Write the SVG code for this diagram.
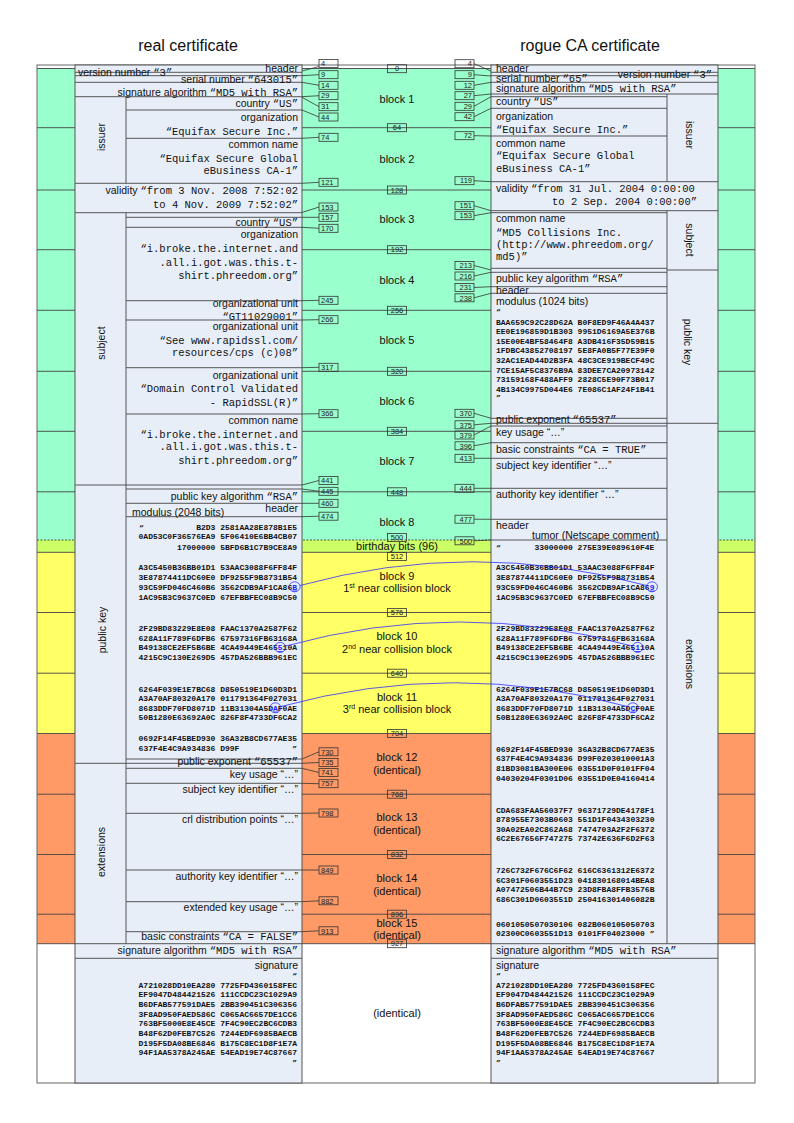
<svg xmlns="http://www.w3.org/2000/svg" width="794" height="1123" viewBox="0 0 794 1123">
<style>
.s{font-family:"Liberation Sans",Arial,sans-serif;font-size:10.5px;fill:#111}
.m{font-family:"Liberation Mono","Courier New",monospace;font-size:10.5px}
.h{font-family:"Liberation Mono","Courier New",monospace;font-size:8px;font-weight:bold;fill:#111}
.bl{font-family:"Liberation Sans",Arial,sans-serif;font-size:11px;text-anchor:middle;fill:#111}
.ti{font-family:"Liberation Sans",Arial,sans-serif;font-size:16px;text-anchor:middle;fill:#111}
.nb{font-family:"Liberation Sans",Arial,sans-serif;font-size:7.5px;fill:#222}
.bx{fill:none;stroke:#333;stroke-width:0.8}
.cert{fill:#E8EEF8;stroke:#555;stroke-width:1}
.ln{stroke:#555;stroke-width:1;fill:none}
.bd{stroke:#444;stroke-width:0.9;fill:none}
.cn{stroke:#333;stroke-width:0.8;fill:none}
.hl{fill:#2020ff;text-decoration:underline}
.ci{fill:none;stroke:#3030ff;stroke-width:0.8}
.cv{fill:none;stroke:#3030ff;stroke-width:0.8}
.e{text-anchor:end}
.mid{text-anchor:middle}
</style>
<g id="titles">
<text class="ti" x="188" y="51">real certificate</text>
<text class="ti" x="590" y="51">rogue CA certificate</text>
</g>
<g id="bands">
<rect x="37" y="68.5" width="718" height="471.5" fill="#99FFCC"/>
<rect x="37" y="540" width="718" height="12.3" fill="#CCFF66"/>
<rect x="37" y="552.3" width="718" height="181.2" fill="#FFFF66"/>
<rect x="37" y="733.5" width="718" height="210.2" fill="#FF9966"/>
<path class="bd" d="M37 68.5H755M37 127.7H755M37 190H755M37 249.7H755M37 310.3H755M37 371.3H755M37 431.3H755M37 491.8H755M37 552.3H755M37 612.5H755M37 673.2H755M37 733.5H755M37 794.2H755M37 854.5H755M37 914.2H755M37 943.7H755"/>
<path class="bd" d="M37 540H755" stroke-dasharray="2 1.5"/>
<rect x="37" y="65" width="718" height="1018" fill="none" stroke="#666" stroke-width="1"/>
</g>
<g id="real-cert">
<rect class="cert" x="75" y="65" width="227" height="1018"/>
<path class="ln" d="M75 72.3H302M75 75.7H302M75 82.3H302M75 96.7H302M75 183.3H302M75 212.7H302M75 485H302M75 763.3H302M75 943.7H302M75 958.3H302M126 96.7V183.3M126 212.7V943.7M126 110H302M126 138.3H302M126 217.3H302M126 227.3H302M126 300.7H302M126 320H302M126 367.7H302M126 414H302M126 489H302M126 503.3H302M126 516.7H302M126 759H302M126 768.3H302M126 783.3H302M126 813.3H302M126 870H302M126 901.7H302M126 931.7H302"/>
<text class="s" transform="translate(101,137) rotate(-90)" x="0" y="3.8" text-anchor="middle">issuer</text>
<text class="s" transform="translate(101,343) rotate(-90)" x="0" y="3.8" text-anchor="middle">subject</text>
<text class="s" transform="translate(102,630) rotate(-90)" x="0" y="3.8" text-anchor="middle">public key</text>
<text class="s" transform="translate(101,852) rotate(-90)" x="0" y="3.8" text-anchor="middle">extensions</text>
<text class="s e" x="298" y="71.8">header</text>
<text class="s" x="78" y="76">version number <tspan class="m">“3”</tspan></text>
<text class="s e" x="298" y="82.6">serial number <tspan class="m">“643015”</tspan></text>
<text class="s e" x="298" y="95.6">signature algorithm <tspan class="m">“MD5 with RSA”</tspan></text>
<text class="s e" x="298" y="107">country <tspan class="m">“US”</tspan></text>
<text class="s e" x="298" y="121.4">organization</text>
<text class="s m e" x="298" y="134.5">“Equifax Secure Inc.”</text>
<text class="s e" x="298" y="148">common name</text>
<text class="s m e" x="298" y="161.8">“Equifax Secure Global</text>
<text class="s m e" x="298" y="174.2">eBusiness CA-1”</text>
<text class="s e" x="298" y="194.4">validity <tspan class="m">“from 3 Nov. 2008 7:52:02</tspan></text>
<text class="s m e" x="298" y="207.5">to 4 Nov. 2009 7:52:02”</text>
<text class="s e" x="298" y="226.4">country <tspan class="m">“US”</tspan></text>
<text class="s e" x="298" y="237.7">organization</text>
<text class="s m e" x="298" y="251.8">“i.broke.the.internet.and</text>
<text class="s m e" x="298" y="265.8">.all.i.got.was.this.t-</text>
<text class="s m e" x="298" y="279.2">shirt.phreedom.org”</text>
<text class="s e" x="298" y="307">organizational unit</text>
<text class="s m e" x="298" y="319.5">“GT11029001”</text>
<text class="s e" x="298" y="330.4">organizational unit</text>
<text class="s m e" x="298" y="343.5">“See www.rapidssl.com/</text>
<text class="s m e" x="298" y="356.2">resources/cps (c)08”</text>
<text class="s e" x="298" y="378.7">organizational unit</text>
<text class="s m e" x="298" y="391.8">“Domain Control Validated</text>
<text class="s m e" x="298" y="405.8">- RapidSSL(R)”</text>
<text class="s e" x="298" y="424">common name</text>
<text class="s m e" x="298" y="437.5">“i.broke.the.internet.and</text>
<text class="s m e" x="298" y="450.2">.all.i.got.was.this.t-</text>
<text class="s m e" x="298" y="463.5">shirt.phreedom.org”</text>
<text class="s e" x="298" y="499.7">public key algorithm <tspan class="m">“RSA”</tspan></text>
<text class="s e" x="298" y="512">header</text>
<text class="s" x="132" y="516">modulus (2048 bits)</text>
<text class="h" x="139" y="529.6">“</text>
<text class="h e" x="297" y="529.6">B2D3 2581AA28E878B1E5</text>
<text class="h e" x="297" y="538.9">0AD53C0F36576EA9 5F06410E6BB4CB07</text>
<text class="h e" x="297" y="549.6">17000000 5BFD6B1C7B9CE8A9</text>
<text class="h e" x="297" y="569.9">A3C5450B36BB01D1 53AAC3088F6FF84F</text>
<text class="h e" x="297" y="579.6">3E87874411DC60E0 DF9255F9B8731B54</text>
<text class="h e" x="297" y="589.6">93C59FD046C460B6 3562CDB9AF1CA86<tspan class="hl">B</tspan></text>
<text class="h e" x="297" y="599.6">1AC95B3C9637C0ED 67EFBBFEC08B9C50</text>
<text class="h e" x="297" y="631.2">2F29BD83229E8E08 FAAC1370A2587F62</text>
<text class="h e" x="297" y="640.6">628A11F789F6DFB6 67597316FB63168A</text>
<text class="h e" x="297" y="650.2">B49138CE2EF5B6BE 4CA49449E465<tspan class="hl">5</tspan>10A</text>
<text class="h e" x="297" y="659.9">4215C9C130E269D5 457DA526BBB961EC</text>
<text class="h e" x="297" y="691.9">6264F039E1E7BC68 D850519E1D60D3D1</text>
<text class="h e" x="297" y="701.2">A3A70AF80320A170 011791364F027031</text>
<text class="h e" x="297" y="710.6">8683DDF70FD8071D 11B31304A5D<tspan class="hl">A</tspan>F0AE</text>
<text class="h e" x="297" y="720.2">50B1280E63692A0C 826F8F4733DF6CA2</text>
<text class="h e" x="297" y="741.2">0692F14F45BED930 36A32B8CD677AE35</text>
<text class="h" x="138.6" y="750.6">637F4E4C9A934836 D99F</text>
<text class="h e" x="297" y="750.6">”</text>
<text class="s e" x="298" y="764.7">public exponent <tspan class="m">“65537”</tspan></text>
<text class="s e" x="298" y="777.7">key usage “…”</text>
<text class="s e" x="298" y="793">subject key identifier “…”</text>
<text class="s e" x="298" y="822.7">crl distribution points “…”</text>
<text class="s e" x="298" y="880.4">authority key identifier “…”</text>
<text class="s e" x="298" y="911">extended key usage “…”</text>
<text class="s e" x="298" y="940.4">basic constraints <tspan class="m">“CA = FALSE”</tspan></text>
<text class="s e" x="298" y="954.4">signature algorithm <tspan class="m">“MD5 with RSA”</tspan></text>
<text class="s e" x="298" y="968.7">signature</text>
<text class="h e" x="297" y="977.9">“</text>
<text class="h e" x="297" y="987.9">A721028DD10EA280 7725FD4360158FEC</text>
<text class="h e" x="297" y="997.2">EF9047D484421526 111CCDC23C1029A9</text>
<text class="h e" x="297" y="1006.9">B6DFAB577591DAE5 2BB390451C306356</text>
<text class="h e" x="297" y="1016.9">3F8AD950FAED586C C065AC6657DE1CC6</text>
<text class="h e" x="297" y="1026.2">763BF5000E8E45CE 7F4C90EC2BC6CDB3</text>
<text class="h e" x="297" y="1035.9">B48F62D0FEB7C526 7244EDF6985BAECB</text>
<text class="h e" x="297" y="1045.6">D195F5DA08BE6846 B175C8EC1D8F1E7A</text>
<text class="h e" x="297" y="1055.2">94F1AA5378A245AE 54EAD19E74C87667</text>
<text class="h e" x="297" y="1064.6">”</text>
</g>
<g id="rogue-cert">
<rect class="cert" x="491" y="65" width="227" height="1018"/>
<path class="ln" d="M491 72.3H718M491 75.7H718M491 82.3H718M491 94H718M491 181.7H718M491 210.7H718M667 270H718M491 423.3H718M491 943.7H718M491 958.3H718M667 94V181.7M667 210.7V943.7M491 96.7H667M491 108.3H667M491 136H667M491 212.7H667M491 268.3H667M491 272.3H667M491 286.7H667M491 293.3H667M491 418.3H667M491 426H667M491 442.7H667M491 458.3H667M491 488.3H667M491 519.3H667M491 540H667"/>
<text class="s" transform="translate(690,135) rotate(90)" x="0" y="3.8" text-anchor="middle">issuer</text>
<text class="s" transform="translate(690,240) rotate(90)" x="0" y="3.8" text-anchor="middle">subject</text>
<text class="s" transform="translate(688,342) rotate(90)" x="0" y="3.8" text-anchor="middle">public key</text>
<text class="s" transform="translate(690,664) rotate(90)" x="0" y="3.8" text-anchor="middle">extensions</text>
<text class="s" x="496" y="71.8">header</text>
<text class="s e" x="712" y="78">version number <tspan class="m">“3”</tspan></text>
<text class="s" x="496" y="82.2">serial number <tspan class="m">“65”</tspan></text>
<text class="s" x="496" y="92">signature algorithm <tspan class="m">“MD5 with RSA”</tspan></text>
<text class="s" x="496" y="105.4">country <tspan class="m">“US”</tspan></text>
<text class="s" x="496" y="119.7">organization</text>
<text class="s m" x="496" y="132.5">“Equifax Secure Inc.”</text>
<text class="s" x="496" y="147">common name</text>
<text class="s m" x="496" y="159.2">“Equifax Secure Global</text>
<text class="s m" x="496" y="171.8">eBusiness CA-1”</text>
<text class="s" x="496" y="192">validity <tspan class="m">“from 31 Jul. 2004 0:00:00</tspan></text>
<text class="s m e" x="697" y="205.2">to 2 Sep. 2004 0:00:00”</text>
<text class="s" x="496" y="222">common name</text>
<text class="s m" x="496" y="235.8">“MD5 Collisions Inc.</text>
<text class="s m" x="496" y="247.5">(http://www.phreedom.org/</text>
<text class="s m" x="496" y="260.2">md5)”</text>
<text class="s" x="496" y="282">public key algorithm <tspan class="m">“RSA”</tspan></text>
<text class="s" x="496" y="293.7">header</text>
<text class="s" x="496" y="304.7">modulus (1024 bits)</text>
<text class="h" x="496" y="313.9">“</text>
<text class="h" x="496" y="324.6">BAA659C92C28D62A B0F8ED9F46A4A437</text>
<text class="h" x="496" y="333.9">EE0E196859D1B303 9951D6169A5E376B</text>
<text class="h" x="496" y="343.6">15E00E4BF58464F8 A3DB416F35D59B15</text>
<text class="h" x="496" y="353.2">1FDBC43852708197 5E8FA0B5F77E39F0</text>
<text class="h" x="496" y="362.9">32AC1EAD44D2B3FA 48C3CE919BECF49C</text>
<text class="h" x="496" y="372.6">7CE15AF5C8376B9A 83DEE7CA20973142</text>
<text class="h" x="496" y="382.2">73159168F488AFF9 2828C5E90F73B017</text>
<text class="h" x="496" y="391.9">4B134C9975D044E6 7E086C1AF24F1B41</text>
<text class="h" x="496" y="399.6">”</text>
<text class="s" x="496" y="423">public exponent <tspan class="m">“65537”</tspan></text>
<text class="s" x="496" y="436.4">key usage “…”</text>
<text class="s" x="496" y="452.7">basic constraints <tspan class="m">“CA = TRUE”</tspan></text>
<text class="s" x="496" y="468.7">subject key identifier “…”</text>
<text class="s" x="496" y="497.7">authority key identifier “…”</text>
<text class="s" x="496" y="529">header</text>
<text class="s" x="532" y="538.7">tumor (Netscape comment)</text>
<text class="h" x="496" y="549.6">“</text>
<text class="h" x="534.4" y="549.6">33000000 275E39E089610F4E</text>
<text class="h" x="496" y="569.9">A3C5450B36BB01D1 53AAC3088F6FF84F</text>
<text class="h" x="496" y="579.6">3E87874411DC60E0 DF9255F9B8731B54</text>
<text class="h" x="496" y="589.6">93C59FD046C460B6 3562CDB9AF1CA86<tspan class="hl">9</tspan></text>
<text class="h" x="496" y="599.6">1AC95B3C9637C0ED 67EFBBFEC08B9C50</text>
<text class="h" x="496" y="631.2">2F29BD83229E8E08 FAAC1370A2587F62</text>
<text class="h" x="496" y="640.6">628A11F789F6DFB6 67597316FB63168A</text>
<text class="h" x="496" y="650.2">B49138CE2EF5B6BE 4CA49449E465<tspan class="hl">1</tspan>10A</text>
<text class="h" x="496" y="659.9">4215C9C130E269D5 457DA526BBB961EC</text>
<text class="h" x="496" y="691.9">6264F039E1E7BC68 D850519E1D60D3D1</text>
<text class="h" x="496" y="701.2">A3A70AF80320A170 011791364F027031</text>
<text class="h" x="496" y="710.6">8683DDF70FD8071D 11B31304A5D<tspan class="hl">C</tspan>F0AE</text>
<text class="h" x="496" y="720.2">50B1280E63692A0C 826F8F4733DF6CA2</text>
<text class="h" x="496" y="751.9">0692F14F45BED930 36A32B8CD677AE35</text>
<text class="h" x="496" y="761.2">637F4E4C9A934836 D99F0203010001A3</text>
<text class="h" x="496" y="770.9">81BD3081BA300E06 03551D0F0101FF04</text>
<text class="h" x="496" y="780.6">04030204F0301D06 03551D0E04160414</text>
<text class="h" x="496" y="812.9">CDA683FAA56037F7 96371729DE4178F1</text>
<text class="h" x="496" y="822.2">878955E7303B0603 551D1F0434303230</text>
<text class="h" x="496" y="831.9">30A02EA02C862A68 7474703A2F2F6372</text>
<text class="h" x="496" y="841.2">6C2E67656F747275 73742E636F6D2F63</text>
<text class="h" x="496" y="872.9">726C732F676C6F62 616C6361312E6372</text>
<text class="h" x="496" y="882.6">6C301F0603551D23 041830168014BEA8</text>
<text class="h" x="496" y="892.2">A07472506B44B7C9 23D8FBA8FFB3576B</text>
<text class="h" x="496" y="901.9">686C301D0603551D 250416301406082B</text>
<text class="h" x="496" y="926.9">0601050507030106 082B060105050703</text>
<text class="h" x="496" y="936.2">02300C0603551D13 0101FF04023000 ”</text>
<text class="s" x="496" y="954.4">signature algorithm <tspan class="m">“MD5 with RSA”</tspan></text>
<text class="s" x="496" y="968.7">signature</text>
<text class="h" x="496" y="977.9">“</text>
<text class="h" x="496" y="987.9">A721028DD10EA280 7725FD4360158FEC</text>
<text class="h" x="496" y="997.2">EF9047D484421526 111CCDC23C1029A9</text>
<text class="h" x="496" y="1006.9">B6DFAB577591DAE5 2BB390451C306356</text>
<text class="h" x="496" y="1016.9">3F8AD950FAED586C C065AC6657DE1CC6</text>
<text class="h" x="496" y="1026.2">763BF5000E8E45CE 7F4C90EC2BC6CDB3</text>
<text class="h" x="496" y="1035.9">B48F62D0FEB7C526 7244EDF6985BAECB</text>
<text class="h" x="496" y="1045.6">D195F5DA08BE6846 B175C8EC1D8F1E7A</text>
<text class="h" x="496" y="1055.2">94F1AA5378A245AE 54EAD19E74C87667</text>
<text class="h" x="496" y="1064.6">”</text>
</g>
<g id="blocks">
<text class="bl" x="397" y="103.3">block 1</text>
<text class="bl" x="397" y="163.3">block 2</text>
<text class="bl" x="397" y="223">block 3</text>
<text class="bl" x="397" y="284">block 4</text>
<text class="bl" x="397" y="344">block 5</text>
<text class="bl" x="397" y="404.7">block 6</text>
<text class="bl" x="397" y="465">block 7</text>
<text class="bl" x="397" y="525.7">block 8</text>
<text class="bl" x="397" y="550">birthday bits (96)</text>
<text class="bl" x="397" y="580">block 9</text>
<text class="bl" x="397" y="592.3">1<tspan dy="-4" font-size="7">st</tspan><tspan dy="4"> near collision block</tspan></text>
<text class="bl" x="397" y="640">block 10</text>
<text class="bl" x="397" y="652.7">2<tspan dy="-4" font-size="7">nd</tspan><tspan dy="4"> near collision block</tspan></text>
<text class="bl" x="397" y="700.7">block 11</text>
<text class="bl" x="397" y="713.3">3<tspan dy="-4" font-size="7">rd</tspan><tspan dy="4"> near collision block</tspan></text>
<text class="bl" x="397" y="760.7">block 12</text>
<text class="bl" x="397" y="774">(identical)</text>
<text class="bl" x="397" y="820.7">block 13</text>
<text class="bl" x="397" y="834">(identical)</text>
<text class="bl" x="397" y="882.3">block 14</text>
<text class="bl" x="397" y="894.7">(identical)</text>
<text class="bl" x="397" y="926.7">block 15</text>
<text class="bl" x="397" y="939">(identical)</text>
<text class="bl" x="397" y="1017.3">(identical)</text>
</g>
<g id="offsets-middle">
<g id="m0"><rect class="bx" x="387.5" y="64.7" width="19" height="8"/><text class="nb mid" x="397" y="71.4">0</text></g>
<g id="m64"><rect class="bx" x="387.5" y="123.7" width="19" height="8"/><text class="nb mid" x="397" y="130.4">64</text></g>
<g id="m128"><rect class="bx" x="387.5" y="186" width="19" height="8"/><text class="nb mid" x="397" y="192.7">128</text></g>
<g id="m192"><rect class="bx" x="387.5" y="245.7" width="19" height="8"/><text class="nb mid" x="397" y="252.4">192</text></g>
<g id="m256"><rect class="bx" x="387.5" y="306.3" width="19" height="8"/><text class="nb mid" x="397" y="313">256</text></g>
<g id="m320"><rect class="bx" x="387.5" y="367.3" width="19" height="8"/><text class="nb mid" x="397" y="374">320</text></g>
<g id="m384"><rect class="bx" x="387.5" y="427.3" width="19" height="8"/><text class="nb mid" x="397" y="434">384</text></g>
<g id="m448"><rect class="bx" x="387.5" y="487.8" width="19" height="8"/><text class="nb mid" x="397" y="494.5">448</text></g>
<g id="m500"><rect class="bx" x="387.5" y="533.5" width="19" height="8"/><text class="nb mid" x="397" y="540.2">500</text></g>
<g id="m512"><rect class="bx" x="387.5" y="552.5" width="19" height="8"/><text class="nb mid" x="397" y="559.2">512</text></g>
<g id="m576"><rect class="bx" x="387.5" y="608.5" width="19" height="8"/><text class="nb mid" x="397" y="615.2">576</text></g>
<g id="m640"><rect class="bx" x="387.5" y="669.2" width="19" height="8"/><text class="nb mid" x="397" y="675.9">640</text></g>
<g id="m704"><rect class="bx" x="387.5" y="729.5" width="19" height="8"/><text class="nb mid" x="397" y="736.2">704</text></g>
<g id="m768"><rect class="bx" x="387.5" y="790.2" width="19" height="8"/><text class="nb mid" x="397" y="796.9">768</text></g>
<g id="m832"><rect class="bx" x="387.5" y="850.5" width="19" height="8"/><text class="nb mid" x="397" y="857.2">832</text></g>
<g id="m896"><rect class="bx" x="387.5" y="910.2" width="19" height="8"/><text class="nb mid" x="397" y="916.9">896</text></g>
<g id="m927"><rect class="bx" x="387.5" y="939.7" width="19" height="8"/><text class="nb mid" x="397" y="946.4">927</text></g>
</g>
<g id="offsets-real">
<g id="l4"><rect class="bx" x="319" y="59.5" width="19" height="8"/><text class="nb" x="321" y="66.2">4</text></g>
<g id="l9"><rect class="bx" x="319" y="70.7" width="19" height="8"/><text class="nb" x="321" y="77.4">9</text></g>
<g id="l14"><rect class="bx" x="319" y="81.3" width="19" height="8"/><text class="nb" x="321" y="88">14</text></g>
<g id="l29"><rect class="bx" x="319" y="91.7" width="19" height="8"/><text class="nb" x="321" y="98.4">29</text></g>
<g id="l31"><rect class="bx" x="319" y="102.7" width="19" height="8"/><text class="nb" x="321" y="109.4">31</text></g>
<g id="l44"><rect class="bx" x="319" y="113" width="19" height="8"/><text class="nb" x="321" y="119.7">44</text></g>
<g id="l74"><rect class="bx" x="319" y="133.3" width="19" height="8"/><text class="nb" x="321" y="140">74</text></g>
<g id="l121"><rect class="bx" x="319" y="178.3" width="19" height="8"/><text class="nb" x="321" y="185">121</text></g>
<g id="l153"><rect class="bx" x="319" y="203" width="19" height="8"/><text class="nb" x="321" y="209.7">153</text></g>
<g id="l157"><rect class="bx" x="319" y="213.3" width="19" height="8"/><text class="nb" x="321" y="220">157</text></g>
<g id="l170"><rect class="bx" x="319" y="224.3" width="19" height="8"/><text class="nb" x="321" y="231">170</text></g>
<g id="l245"><rect class="bx" x="319" y="296.3" width="19" height="8"/><text class="nb" x="321" y="303">245</text></g>
<g id="l266"><rect class="bx" x="319" y="315.7" width="19" height="8"/><text class="nb" x="321" y="322.4">266</text></g>
<g id="l317"><rect class="bx" x="319" y="363.3" width="19" height="8"/><text class="nb" x="321" y="370">317</text></g>
<g id="l366"><rect class="bx" x="319" y="409.7" width="19" height="8"/><text class="nb" x="321" y="416.4">366</text></g>
<g id="l441"><rect class="bx" x="319" y="476.5" width="19" height="8"/><text class="nb" x="321" y="483.2">441</text></g>
<g id="l445"><rect class="bx" x="319" y="487.3" width="19" height="8"/><text class="nb" x="321" y="494">445</text></g>
<g id="l460"><rect class="bx" x="319" y="499.3" width="19" height="8"/><text class="nb" x="321" y="506">460</text></g>
<g id="l474"><rect class="bx" x="319" y="512.2" width="19" height="8"/><text class="nb" x="321" y="518.9">474</text></g>
<g id="l730"><rect class="bx" x="319" y="747.8" width="19" height="8"/><text class="nb" x="321" y="754.5">730</text></g>
<g id="l735"><rect class="bx" x="319" y="758.5" width="19" height="8"/><text class="nb" x="321" y="765.2">735</text></g>
<g id="l741"><rect class="bx" x="319" y="768.5" width="19" height="8"/><text class="nb" x="321" y="775.2">741</text></g>
<g id="l757"><rect class="bx" x="319" y="779.7" width="19" height="8"/><text class="nb" x="321" y="786.4">757</text></g>
<g id="l798"><rect class="bx" x="319" y="809" width="19" height="8"/><text class="nb" x="321" y="815.7">798</text></g>
<g id="l849"><rect class="bx" x="319" y="866" width="19" height="8"/><text class="nb" x="321" y="872.7">849</text></g>
<g id="l882"><rect class="bx" x="319" y="896.8" width="19" height="8"/><text class="nb" x="321" y="903.5">882</text></g>
<g id="l913"><rect class="bx" x="319" y="926.8" width="19" height="8"/><text class="nb" x="321" y="933.5">913</text></g>
</g>
<g id="offsets-rogue">
<g id="r4"><rect class="bx" x="455" y="59.7" width="19" height="8"/><text class="nb e" x="472" y="66.4">4</text></g>
<g id="r9"><rect class="bx" x="455" y="70.7" width="19" height="8"/><text class="nb e" x="472" y="77.4">9</text></g>
<g id="r12"><rect class="bx" x="455" y="81.3" width="19" height="8"/><text class="nb e" x="472" y="88">12</text></g>
<g id="r27"><rect class="bx" x="455" y="91.7" width="19" height="8"/><text class="nb e" x="472" y="98.4">27</text></g>
<g id="r29"><rect class="bx" x="455" y="102.3" width="19" height="8"/><text class="nb e" x="472" y="109">29</text></g>
<g id="r42"><rect class="bx" x="455" y="112.7" width="19" height="8"/><text class="nb e" x="472" y="119.4">42</text></g>
<g id="r72"><rect class="bx" x="455" y="131.7" width="19" height="8"/><text class="nb e" x="472" y="138.4">72</text></g>
<g id="r119"><rect class="bx" x="455" y="176.7" width="19" height="8"/><text class="nb e" x="472" y="183.4">119</text></g>
<g id="r151"><rect class="bx" x="455" y="201.7" width="19" height="8"/><text class="nb e" x="472" y="208.4">151</text></g>
<g id="r153"><rect class="bx" x="455" y="211.7" width="19" height="8"/><text class="nb e" x="472" y="218.4">153</text></g>
<g id="r213"><rect class="bx" x="455" y="261.5" width="19" height="8"/><text class="nb e" x="472" y="268.2">213</text></g>
<g id="r216"><rect class="bx" x="455" y="272" width="19" height="8"/><text class="nb e" x="472" y="278.7">216</text></g>
<g id="r231"><rect class="bx" x="455" y="283.5" width="19" height="8"/><text class="nb e" x="472" y="290.2">231</text></g>
<g id="r238"><rect class="bx" x="455" y="293.8" width="19" height="8"/><text class="nb e" x="472" y="300.5">238</text></g>
<g id="r370"><rect class="bx" x="455" y="409.3" width="19" height="8"/><text class="nb e" x="472" y="416">370</text></g>
<g id="r375"><rect class="bx" x="455" y="420.8" width="19" height="8"/><text class="nb e" x="472" y="427.5">375</text></g>
<g id="r379"><rect class="bx" x="455" y="431" width="19" height="8"/><text class="nb e" x="472" y="437.7">379</text></g>
<g id="r396"><rect class="bx" x="455" y="441.8" width="19" height="8"/><text class="nb e" x="472" y="448.5">396</text></g>
<g id="r413"><rect class="bx" x="455" y="454.3" width="19" height="8"/><text class="nb e" x="472" y="461">413</text></g>
<g id="r444"><rect class="bx" x="455" y="484.3" width="19" height="8"/><text class="nb e" x="472" y="491">444</text></g>
<g id="r477"><rect class="bx" x="455" y="515.2" width="19" height="8"/><text class="nb e" x="472" y="521.9">477</text></g>
<g id="r500"><rect class="bx" x="455" y="536.8" width="19" height="8"/><text class="nb e" x="472" y="543.5">500</text></g>
</g>
<g id="connectors">
<path class="cn" d="M319 66.5L302 71M319 74.7L302 75.7M319 85.3L302 82.3M319 95.7L302 96.7M319 106.7L302 97.3M319 117L302 110M319 137.3L302 138.3M319 182.3L302 183.3M319 207L302 212.5M319 217.3L302 217.3M319 228.3L302 227.3M319 300.3L302 300.7M319 319.7L302 320M319 367.3L302 367.7M319 413.7L302 414M319 480.5L302 485M319 491.3L302 489M319 503.3L302 503.3M319 516.2L302 516.7M319 751.8L302 759M319 762.5L302 763.3M319 772.5L302 768.3M319 783.7L302 783.3M319 813L302 813.3M319 870L302 870M319 900.8L302 901.7M319 930.8L302 931.7"/>
<path class="cn" d="M474 63.7L491 71M474 74.7L491 76M474 85.3L491 82.3M474 95.7L491 94M474 106.3L491 96.7M474 116.7L491 108.3M474 135.7L491 136M474 180.7L491 181.7M474 205.7L491 210.7M474 215.7L491 212.7M474 265.5L491 270M474 276L491 272.3M474 287.5L491 286.7M474 297.8L491 293.3M474 413.3L491 418.3M474 424.8L491 423.3M474 435L491 426M474 445.8L491 442.7M474 458.3L491 458.3M474 488.3L491 488.3M474 519.2L491 519.3M474 540.8L491 540"/>
<ellipse class="ci" cx="294.6" cy="586.8" rx="5.5" ry="5"/>
<ellipse class="ci" cx="652" cy="586.8" rx="5.5" ry="5"/>
<ellipse class="ci" cx="280.2" cy="647.4" rx="5.5" ry="5"/>
<ellipse class="ci" cx="637.6" cy="647.4" rx="5.5" ry="5"/>
<ellipse class="ci" cx="275.4" cy="707.8" rx="5.5" ry="5"/>
<ellipse class="ci" cx="632.8" cy="707.8" rx="5.5" ry="5"/>
<path class="cv" d="M300 585.5Q473 538 646.5 585.5"/>
<path class="cv" d="M285.7 646Q460 598 632 646"/>
<path class="cv" d="M281 706.5Q455 659 627.3 706.5"/>
</g>
</svg>
